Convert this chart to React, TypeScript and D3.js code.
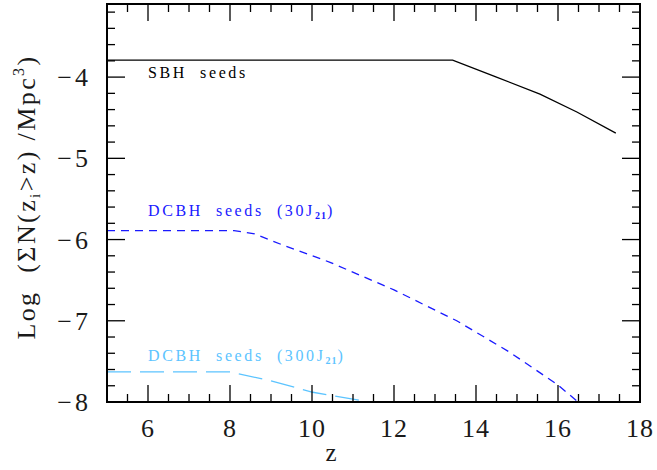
import React from "react";
import * as d3 from "d3";

const sbhZ = [5, 13.43, 14.5, 15.56, 16.46, 17.41];
const sbhY = [-3.79, -3.79, -4.0, -4.21, -4.43, -4.69];

const dc30Z = [5, 8.1, 8.6, 9.3, 10.44, 12.0, 13.53, 14.8, 15.97, 16.49];
const dc30Y = [-5.89, -5.89, -5.93, -6.07, -6.28, -6.62, -7.0, -7.38, -7.78, -8.0];

const dc300Z = [5, 8.0, 9.0, 10.02, 11.41];
const dc300Y = [-7.63, -7.63, -7.74, -7.88, -8.0];

const xTicks = [6, 8, 10, 12, 14, 16, 18];
const yTicks = [-4, -5, -6, -7, -8];

export default function App() {
  const L = 107, R = 640, T = 4, B = 402;
  const x = d3.scaleLinear().domain([5, 18]).range([L, R]);
  const y = d3.scaleLinear().domain([-8, -3.1]).range([B, T]);
  const line = d3
    .line<[number, number]>()
    .x((d) => x(d[0]))
    .y((d) => y(d[1]));
  const zip = (a: number[], b: number[]) => a.map((v, i) => [v, b[i]] as [number, number]);

  const xMinor = d3.range(5, 18.01, 0.5);
  const yMinor = d3.range(-8, -3.09, 0.2);
  const serif = "'Liberation Serif', 'DejaVu Serif', serif";

  return (
    <svg width={657} height={470} style={{ position: "absolute", left: 0, top: 0 }}>
      <rect width={657} height={470} fill="white" />
      <defs>
        <clipPath id="clip">
          <rect x={L} y={T} width={R - L} height={B - T} />
        </clipPath>
      </defs>
      <g clipPath="url(#clip)" fill="none">
        <path d={line(zip(sbhZ, sbhY)) || ""} stroke="black" strokeWidth={1.3} />
        <path d={line(zip(dc30Z, dc30Y)) || ""} stroke="#1a1aff" strokeWidth={1.3} strokeDasharray="8 6" />
        <path d={line(zip(dc300Z, dc300Y)) || ""} stroke="#5cc4ff" strokeWidth={1.3} strokeDasharray="24 9" />
      </g>
      <g stroke="black" strokeWidth={1.3}>
        {xMinor.map((v, i) => {
          const major = Math.abs(v % 2) < 1e-6;
          const len = major ? 17 : 8;
          return (
            <g key={"xm" + i}>
              <line x1={x(v)} x2={x(v)} y1={B} y2={B - len} />
              <line x1={x(v)} x2={x(v)} y1={T} y2={T + len} />
            </g>
          );
        })}
        {yMinor.map((v, i) => {
          const major = Math.abs(v - Math.round(v)) < 1e-6;
          const len = major ? 18 : 8;
          return (
            <g key={"ym" + i}>
              <line x1={L} x2={L + len} y1={y(v)} y2={y(v)} />
              <line x1={R} x2={R - len} y1={y(v)} y2={y(v)} />
            </g>
          );
        })}
      </g>
      <rect x={L} y={T} width={R - L} height={B - T} fill="none" stroke="black" strokeWidth={2} />
      <g fontFamily={serif} fontSize={26} fill="#1a1a1a">
        {xTicks.map((v) => (
          <text key={"xt" + v} x={x(v)} y={437} textAnchor="middle" letterSpacing={1}>
            {v}
          </text>
        ))}
        {yTicks.map((v) => (
          <text key={"yt" + v} x={91} y={y(v) + 9} textAnchor="end" letterSpacing={3}>
            {"\u2212" + Math.abs(v)}
          </text>
        ))}
        <text x={331} y={461} textAnchor="middle" fontSize={25}>
          z
        </text>
        <text
          transform={`translate(35, 197) rotate(-90)`}
          textAnchor="middle"
          fontSize={26}
          letterSpacing={2.4}
          xmlSpace="preserve"
        >
          {"Log  (ΣN(z"}
          <tspan fontSize={15} dy={5}>i</tspan>
          <tspan dy={-5}>{">z) /Mpc"}</tspan>
          <tspan fontSize={16} dy={-11}>3</tspan>
          <tspan dy={11}>)</tspan>
        </text>
      </g>
      <g fontFamily={serif} fontSize={16} letterSpacing={2.6}>
        <text x={148} y={78} fill="black" xmlSpace="preserve">
          SBH  seeds
        </text>
        <text x={148} y={216} fill="#1a1aff" xmlSpace="preserve">
          DCBH  seeds  (30J<tspan fontSize={10} dy={3} fontWeight="bold" letterSpacing={1}>21</tspan>
          <tspan dy={-3}>)</tspan>
        </text>
        <text x={148} y={361} fill="#5cc4ff" xmlSpace="preserve">
          DCBH  seeds  (300J<tspan fontSize={10} dy={3} fontWeight="bold" letterSpacing={1}>21</tspan>
          <tspan dy={-3}>)</tspan>
        </text>
      </g>
    </svg>
  );
}
